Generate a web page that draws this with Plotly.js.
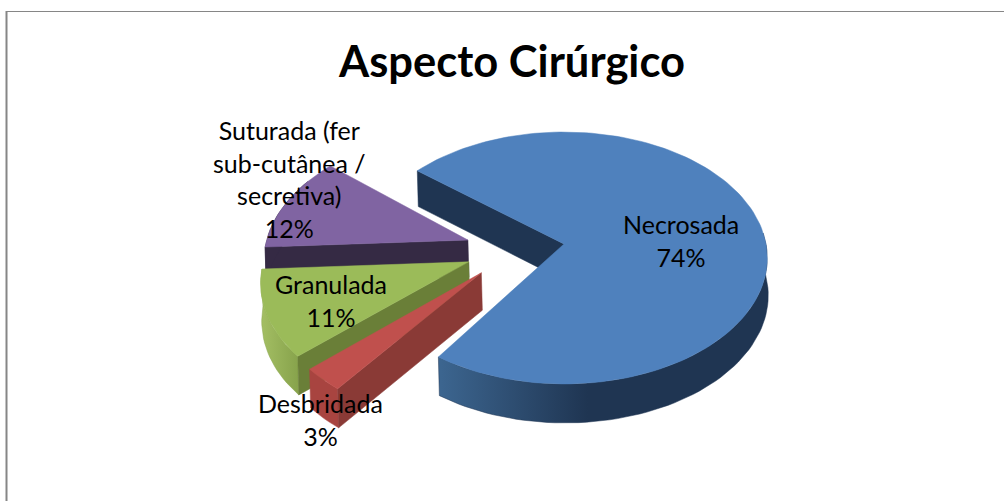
<!DOCTYPE html>
<html><head><meta charset="utf-8">
<script src="https://cdn.plot.ly/plotly-3.0.1.min.js"></script>
<style>html,body{margin:0;padding:0;background:#fff}#c{width:1004px;height:501px}</style>
</head><body><div id="c"></div>
<script>
// ---- chart data ----
const chartTitle = 'Aspecto Cirúrgico';
const categories = ['Necrosada', 'Desbridada', 'Granulada', 'Suturada (fer<br>sub-cutânea /<br>secretiva)'];
const values = [74, 3, 11, 12];

// ---- styling ----
const topColors  = ['#4F81BD', '#C0504D', '#9BBB59', '#8064A2'];
const sideColors = ['#1F3552', '#8A3A36', '#6A7F38', '#352A44'];
const labelPos = [[681, 240], [320, 419], [331, 300], [289, 179]];

// ---- projection of a tilted pie (plane coordinates -> picture coordinates) ----
const firstAngle = 308, ax = 564, ay = 244, A = 202, B = 124.4, k = 0.111, depth = 37;
const total = values.reduce((a, b) => a + b, 0);
let acc = firstAngle;
const slices = values.map(v => { const s = acc; acc += v / total * 360; return {a0: s, a1: acc}; });
const rad = d => d * Math.PI / 180;
const bis = s => { const m = rad((s.a0 + s.a1) / 2); return [Math.sin(m), -Math.cos(m)]; };
const explode = 0.245, base = bis(slices[0]);
slices.forEach((s, i) => {
  const b = bis(s);
  s.o = i === 0 ? [0, 0] : [explode * (b[0] - base[0]), explode * (b[1] - base[1])];
  // small turn that compensates for the perspective of the exploded slices
  if (i === 0) s.a0 += 1; else { s.a0 += 2; s.a1 += 2; }
});
function proj(X, Y, dn) {
  const w = 1 - k * Y;
  return [ax + A * X / w + (dn ? 1 : 0), ay + B * Y / w + (dn ? depth + 2 * Y : 0)];
}
const rim = (s, deg, dn) => proj(s.o[0] + Math.sin(rad(deg)), s.o[1] - Math.cos(rad(deg)), dn);
const apex = (s, dn) => proj(s.o[0], s.o[1], dn);
function arc(s, d0, d1, dn) {
  const n = Math.max(2, Math.ceil(Math.abs(d1 - d0) / 2)), out = [];
  for (let i = 0; i <= n; i++) out.push(rim(s, d0 + (d1 - d0) * i / n, dn));
  return out;
}
function poly(pts, color, extra) {
  return Object.assign({
    type: 'scatter', mode: 'lines', hoverinfo: 'skip', showlegend: false,
    x: pts.map(p => p[0]).concat(pts[0][0]), y: pts.map(p => p[1]).concat(pts[0][1]),
    fill: 'toself', fillcolor: color, line: {width: 0.5, color: color}
  }, extra || {});
}
const topFace = s => [apex(s)].concat(arc(s, s.a0, s.a1));
const radial = (s, d) => [apex(s), rim(s, d), rim(s, d, true), apex(s, true)];
const outer = (s, d0, d1) => arc(s, d0, d1).concat(arc(s, d1, d0, true));

const [n, r, g, p] = slices;
const traces = [
  // Necrosada
  poly(radial(n, n.a0), sideColors[0]),
  poly(outer(n, 360 + 85, n.a1), sideColors[0], {fillgradient: {type: 'horizontal', start: 441, stop: 767,
    colorscale: [[0, '#3C658F'], [0.45, '#1F3552'], [1, '#1F3552']]}}),
  poly(topFace(n), topColors[0]),
  // Suturada
  poly(radial(p, p.a0), sideColors[3]),
  poly(outer(p, p.a0, p.a1 - 10), sideColors[3]),
  poly(topFace(p), topColors[3]),
  // Granulada
  poly(outer(g, g.a0, g.a1), '#8AA64E', {fillgradient: {type: 'horizontal', start: 262, stop: 310,
    colorscale: [[0, '#A3BE63'], [1, '#7E9A44']]}}),
  poly(radial(g, g.a0), sideColors[2]),
  poly(topFace(g), topColors[2]),
  // Desbridada
  poly(outer(r, r.a0, r.a1), '#A84440'),
  poly(radial(r, r.a0), sideColors[1]),
  poly(topFace(r), topColors[1])
];
const annotations = categories.map((c, i) => ({
  xref: 'x', yref: 'y', x: labelPos[i][0], y: labelPos[i][1], showarrow: false,
  text: c + '<br>' + Math.round(values[i] / total * 100) + '%',
  align: 'center', xanchor: 'center', yanchor: 'middle',
  font: {family: 'Lato, sans-serif', size: 25, color: '#000'}
}));
const frame = {color: '#868686', width: 1};
Plotly.newPlot('c', traces, {
  width: 1004, height: 501,
  margin: {l: 0, r: 0, t: 0, b: 0},
  paper_bgcolor: '#fff', plot_bgcolor: '#fff', showlegend: false,
  title: {text: '<b>' + chartTitle + '</b>', x: 512 / 1004, xanchor: 'center', y: 1 - 62 / 501, yanchor: 'middle',
          font: {family: 'Lato, sans-serif', size: 43.5, color: '#000'}},
  xaxis: {range: [0, 1004], visible: false, fixedrange: true},
  yaxis: {range: [501, 0], visible: false, fixedrange: true},
  annotations: annotations,
  shapes: [
    {type: 'line', xref: 'paper', yref: 'paper', x0: 6 / 1004, x1: 1, y0: 1 - 11.5 / 501, y1: 1 - 11.5 / 501, line: frame},
    {type: 'line', xref: 'paper', yref: 'paper', x0: 6.5 / 1004, x1: 6.5 / 1004, y0: 1 - 11 / 501, y1: 0, line: {color: '#868686', width: 2}}
  ]
}, {displayModeBar: false, staticPlot: true});
</script></body></html>
